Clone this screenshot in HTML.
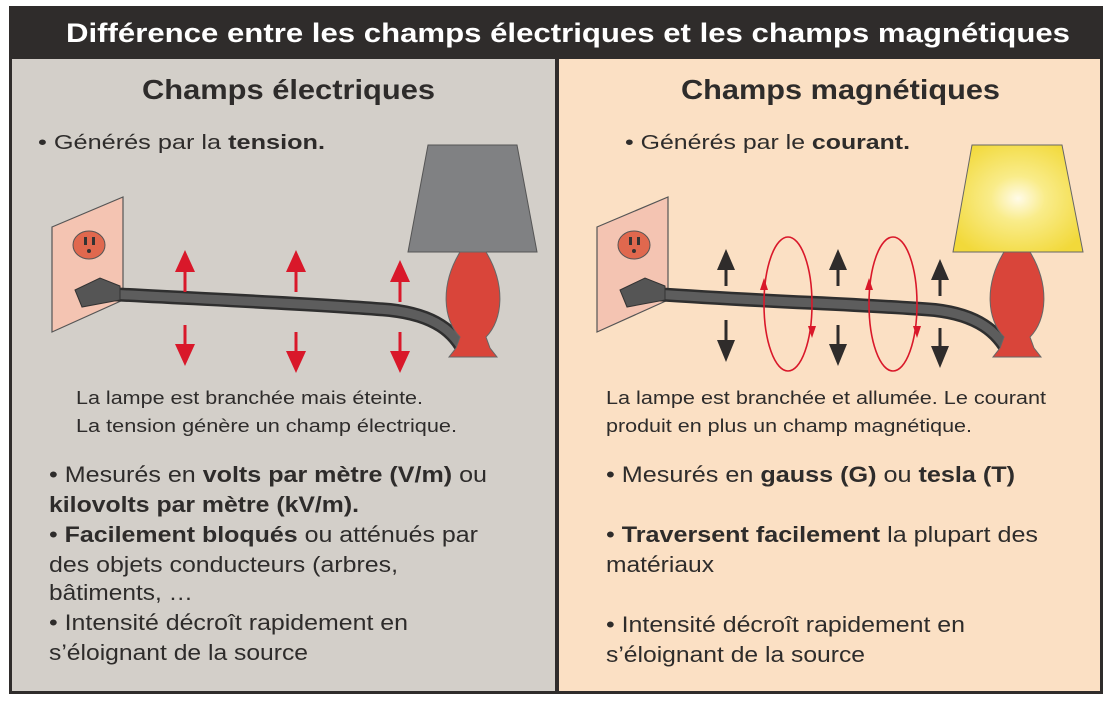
<!DOCTYPE html>
<html><head><meta charset="utf-8"><style>
html,body{margin:0;padding:0;background:#fff;}
svg{display:block;}
text{font-family:"Liberation Sans",Arial,sans-serif;fill:#2e2c2b;}
.b{font-weight:bold;}
</style></head><body>
<svg width="1112" height="702" viewBox="0 0 1112 702" xmlns="http://www.w3.org/2000/svg">
<defs>
<radialGradient id="glow" cx="0.5" cy="0.5" r="0.6">
<stop offset="0" stop-color="#fffbe8"/><stop offset="0.35" stop-color="#f9ec8a"/><stop offset="1" stop-color="#f2d93a"/>
</radialGradient>
</defs>
<rect x="0" y="0" width="1112" height="702" fill="#fff"/>
<rect x="9" y="6" width="1094" height="688" fill="#2f2c2b"/>
<rect x="12" y="59" width="543" height="632" fill="#d3cfc9"/>
<rect x="559" y="59" width="541" height="632" fill="#fbe0c4"/>
<text x="66" y="42" class="b" font-size="27" style="fill:#fff" textLength="1004" lengthAdjust="spacingAndGlyphs">Différence entre les champs électriques et les champs magnétiques</text>
<text x="142" y="99" class="b" font-size="28" textLength="293" lengthAdjust="spacingAndGlyphs">Champs électriques</text>
<text x="681" y="99" class="b" font-size="28" textLength="319" lengthAdjust="spacingAndGlyphs">Champs magnétiques</text>
<text x="38" y="149" font-size="20" textLength="287" lengthAdjust="spacingAndGlyphs">• Générés par la <tspan class="b">tension.</tspan></text>
<text x="625" y="149" font-size="20" textLength="285" lengthAdjust="spacingAndGlyphs">• Générés par le <tspan class="b">courant.</tspan></text>

<!-- left illustration -->
<polygon points="52,227 123,197 123,300 52,332" fill="#f4c4b2" stroke="#555" stroke-width="1.2"/>
<ellipse cx="89" cy="245" rx="16" ry="14" fill="#e0684e" stroke="#555"/>
<rect x="84" y="237" width="3" height="8" fill="#333"/><rect x="92" y="237" width="3" height="8" fill="#333"/><circle cx="89" cy="251" r="2" fill="#333"/>
<path d="M110,294 C220,300 320,304 390,310 C435,315 455,332 465,354" stroke="#2f2f2f" stroke-width="14" fill="none"/>
<path d="M110,294 C220,300 320,304 390,310 C435,315 455,332 465,354" stroke="#5d5d5d" stroke-width="9" fill="none"/>
<polygon points="75,290 100,278 120,286 120,300 82,307" fill="#555" stroke="#333"/>
<polygon points="428,145 517,145 537,252 408,252" fill="#808183" stroke="#555"/>
<path d="M460,252 L486,252 C506,285 503,320 486,337 L490,348 L497,357 L449,357 L456,348 L460,337 C443,320 440,285 460,252 z" fill="#d9453a" stroke="#666"/>
<g fill="#d9182a" stroke="#d9182a">
<line x1="185" y1="292" x2="185" y2="268" stroke-width="3"/><polygon points="185,250 175,272 195,272" stroke="none"/>
<line x1="296" y1="292" x2="296" y2="268" stroke-width="3"/><polygon points="296,250 286,272 306,272" stroke="none"/>
<line x1="400" y1="302" x2="400" y2="278" stroke-width="3"/><polygon points="400,260 390,282 410,282" stroke="none"/>
<line x1="185" y1="325" x2="185" y2="348" stroke-width="3"/><polygon points="185,366 175,344 195,344" stroke="none"/>
<line x1="296" y1="332" x2="296" y2="355" stroke-width="3"/><polygon points="296,373 286,351 306,351" stroke="none"/>
<line x1="400" y1="332" x2="400" y2="355" stroke-width="3"/><polygon points="400,373 390,351 410,351" stroke="none"/>
</g>

<!-- right illustration -->
<polygon points="597,227 668,197 668,300 597,332" fill="#f4c4b2" stroke="#555" stroke-width="1.2"/>
<ellipse cx="634" cy="245" rx="16" ry="14" fill="#e0684e" stroke="#555"/>
<rect x="629" y="237" width="3" height="8" fill="#333"/><rect x="637" y="237" width="3" height="8" fill="#333"/><circle cx="634" cy="251" r="2" fill="#333"/>
<path d="M655,294 C770,302 860,304 935,310 C978,315 998,332 1009,354" stroke="#2f2f2f" stroke-width="14" fill="none"/>
<path d="M655,294 C770,302 860,304 935,310 C978,315 998,332 1009,354" stroke="#5d5d5d" stroke-width="9" fill="none"/>
<polygon points="620,290 645,278 665,286 665,300 627,307" fill="#555" stroke="#333"/>
<polygon points="972,145 1062,145 1083,252 953,252" fill="url(#glow)" stroke="#666"/>
<path d="M1004,252 L1030,252 C1050,285 1047,320 1030,337 L1034,348 L1041,357 L993,357 L1000,348 L1004,337 C987,320 984,285 1004,252 z" fill="#d9453a" stroke="#666"/>
<ellipse cx="788" cy="304" rx="24" ry="67" fill="none" stroke="#d9182a" stroke-width="1.6"/>
<ellipse cx="893" cy="304" rx="24" ry="67" fill="none" stroke="#d9182a" stroke-width="1.6"/>
<g fill="#d9182a"><polygon points="764,278 760,290 768,290"/><polygon points="812,338 808,326 816,326"/><polygon points="869,278 865,290 873,290"/><polygon points="917,338 913,326 921,326"/></g>
<g fill="#2f2c2b" stroke="#2f2c2b">
<line x1="726" y1="286" x2="726" y2="266" stroke-width="3"/><polygon points="726,249 717,270 735,270" stroke="none"/>
<line x1="838" y1="286" x2="838" y2="266" stroke-width="3"/><polygon points="838,249 829,270 847,270" stroke="none"/>
<line x1="940" y1="296" x2="940" y2="276" stroke-width="3"/><polygon points="940,259 931,280 949,280" stroke="none"/>
<line x1="726" y1="320" x2="726" y2="344" stroke-width="3"/><polygon points="726,362 717,340 735,340" stroke="none"/>
<line x1="838" y1="325" x2="838" y2="348" stroke-width="3"/><polygon points="838,366 829,344 847,344" stroke="none"/>
<line x1="940" y1="328" x2="940" y2="350" stroke-width="3"/><polygon points="940,368 931,346 949,346" stroke="none"/>
</g>

<!-- captions -->
<text x="76" y="404" font-size="18" textLength="347" lengthAdjust="spacingAndGlyphs">La lampe est branchée mais éteinte.</text>
<text x="76" y="432" font-size="18" textLength="381" lengthAdjust="spacingAndGlyphs">La tension génère un champ électrique.</text>
<text x="606" y="404" font-size="18" textLength="440" lengthAdjust="spacingAndGlyphs">La lampe est branchée et allumée. Le courant</text>
<text x="606" y="432" font-size="18" textLength="366" lengthAdjust="spacingAndGlyphs">produit en plus un champ magnétique.</text>

<!-- left bullets -->
<g font-size="22">
<text x="49" y="482" textLength="438" lengthAdjust="spacingAndGlyphs">• Mesurés en <tspan class="b">volts par mètre (V/m)</tspan> ou</text>
<text x="49" y="512" class="b" textLength="310" lengthAdjust="spacingAndGlyphs">kilovolts par mètre (kV/m).</text>
<text x="49" y="542" textLength="429" lengthAdjust="spacingAndGlyphs">• <tspan class="b">Facilement bloqués</tspan> ou atténués par</text>
<text x="49" y="572" textLength="349" lengthAdjust="spacingAndGlyphs">des objets conducteurs (arbres,</text>
<text x="49" y="600" textLength="144" lengthAdjust="spacingAndGlyphs">bâtiments, …</text>
<text x="49" y="630" textLength="359" lengthAdjust="spacingAndGlyphs">• Intensité décroît rapidement en</text>
<text x="49" y="660" textLength="259" lengthAdjust="spacingAndGlyphs">s’éloignant de la source</text>
</g>
<!-- right bullets -->
<g font-size="22">
<text x="606" y="482" textLength="409" lengthAdjust="spacingAndGlyphs">• Mesurés en <tspan class="b">gauss (G)</tspan> ou <tspan class="b">tesla (T)</tspan></text>
<text x="606" y="542" textLength="432" lengthAdjust="spacingAndGlyphs">• <tspan class="b">Traversent facilement</tspan> la plupart des</text>
<text x="606" y="572" textLength="108" lengthAdjust="spacingAndGlyphs">matériaux</text>
<text x="606" y="632" textLength="359" lengthAdjust="spacingAndGlyphs">• Intensité décroît rapidement en</text>
<text x="606" y="662" textLength="259" lengthAdjust="spacingAndGlyphs">s’éloignant de la source</text>
</g>
</svg>
</body></html>
